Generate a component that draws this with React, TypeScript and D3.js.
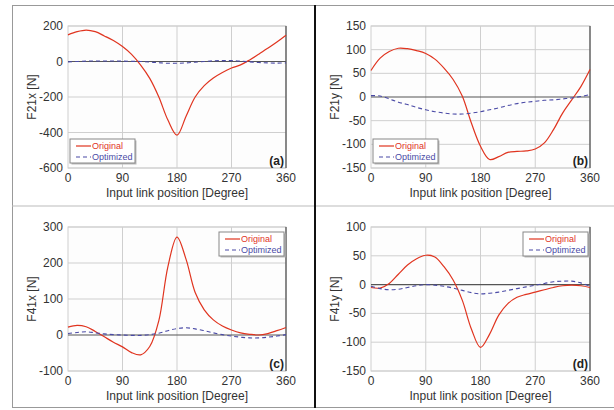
import { useMemo } from "react";
import * as d3 from "d3";

// input link angle, degrees (same grid for every series)
const angles = [0, 15, 30, 45, 60, 75, 90, 105, 120, 135, 150, 165, 180, 195, 210, 225, 240, 255, 270, 285, 300, 315, 330, 345, 360];

const f21xOriginal = [150, 168, 177, 168, 144, 118, 84, 40, -20, -95, -200, -330, -415, -308, -200, -136, -93, -62, -37, -19, 9, 41, 75, 110, 148];
const f21xOptimized = [-2, 0, 2, 3, 3, 3, 2, 1, 0, -3, -7, -10, -10, -8, -4, 0, 4, 5, 5, 2, -2, -6, -8, -9, -8];

const f21yOriginal = [56, 82, 96, 103, 102, 98, 92, 80, 61, 37, 2, -55, -104, -132, -126, -117, -115, -114, -110, -97, -69, -34, -6, 22, 58];
const f21yOptimized = [3, 2, -4, -11, -16, -22, -27, -31, -34, -36, -36, -34, -31, -27, -23, -18, -14, -11, -9, -7, -6, -4, -2, 1, 5];

const f41xOriginal = [22, 27, 23, 10, -5, -20, -33, -49, -55, -32, 40, 190, 272, 210, 118, 70, 42, 25, 14, 6, 2, 0, 4, 12, 21];
const f41xOptimized = [4, 7, 9, 6, 3, 1, 0, -1, -1, 1, 5, 12, 18, 20, 17, 12, 6, 1, -3, -6, -8, -8, -6, -3, 1];

const f41yOriginal = [-5, -6, 2, 18, 34, 45, 51, 48, 31, 8, -27, -77, -109, -86, -53, -33, -22, -17, -13, -9, -5, -2, -1, -2, -5];
const f41yOptimized = [-3, -7, -9, -8, -5, -2, 0, -1, -3, -6, -10, -14, -16, -15, -13, -10, -7, -4, -1, 2, 5, 6, 6, 3, -3];

const xTicks = [0, 90, 180, 270, 360];

const panels = [
  { key: "a", title: "F21x [N]", orig: f21xOriginal, opt: f21xOptimized, domain: [-600, 200], ticks: [-600, -400, -200, 0, 200], box: { l: 68, r: 286, t: 26, b: 168 }, legend: "bl" },
  { key: "b", title: "F21y [N]", orig: f21yOriginal, opt: f21yOptimized, domain: [-150, 150], ticks: [-150, -100, -50, 0, 50, 100, 150], box: { l: 371, r: 590, t: 26, b: 168 }, legend: "bl" },
  { key: "c", title: "F41x [N]", orig: f41xOriginal, opt: f41xOptimized, domain: [-100, 300], ticks: [-100, 0, 100, 200, 300], box: { l: 68, r: 286, t: 227, b: 371 }, legend: "tr" },
  { key: "d", title: "F41y [N]", orig: f41yOriginal, opt: f41yOptimized, domain: [-150, 100], ticks: [-150, -100, -50, 0, 50, 100], box: { l: 371, r: 590, t: 227, b: 371 }, legend: "tr" },
];

const RED = "#e0341f";
const BLUE = "#4a4aa6";
const FONT = "'Liberation Sans', Arial, sans-serif";

const Panel = ({ p }) => {
  const { l, r, t, b } = p.box;
  const x = useMemo(() => d3.scaleLinear().domain([0, 360]).range([l, r]), [l, r]);
  const y = useMemo(() => d3.scaleLinear().domain(p.domain).range([b, t]), [p, b, t]);
  const line = d3
    .line<number>()
    .x((_, i) => x(angles[i]))
    .y((v) => y(v))
    .curve(d3.curveCatmullRom.alpha(0.5));

  const lg = p.legend === "bl" ? { x: l + 2, y: b - 29 } : { x: r - 67, y: t + 5 };

  return (
    <g>
      <rect x={l} y={t} width={r - l} height={b - t} fill="#fdfdfd" stroke="#d0d0d0" />
      {xTicks.slice(1, -1).map((d) => (
        <line key={d} x1={x(d)} x2={x(d)} y1={t} y2={b} stroke="#cfcfcf" />
      ))}
      {p.ticks.map((d) => (
        <line key={d} x1={l} x2={r} y1={y(d)} y2={y(d)} stroke={d === 0 ? "#555" : "#cfcfcf"} strokeWidth={d === 0 ? 1.2 : 1} />
      ))}
      <line x1={r} x2={r} y1={t} y2={b} stroke="#555" strokeWidth={1.3} />
      <path d={line(p.orig) || ""} fill="none" stroke={RED} strokeWidth={1.2} />
      <path d={line(p.opt) || ""} fill="none" stroke={BLUE} strokeWidth={1.1} strokeDasharray="4,3" />
      {p.ticks.map((d) => (
        <text key={d} x={l - 5} y={y(d) + 4} textAnchor="end" fontSize={12} fill="#333" fontFamily={FONT}>
          {d}
        </text>
      ))}
      {xTicks.map((d) => (
        <text key={d} x={x(d)} y={b + 14} textAnchor="middle" fontSize={12} fill="#333" fontFamily={FONT}>
          {d}
        </text>
      ))}
      <text x={(l + r) / 2} y={b + 29} textAnchor="middle" fontSize={12} fill="#333" fontFamily={FONT}>
        Input link position [Degree]
      </text>
      <text transform={`translate(${l - 32},${(t + b) / 2}) rotate(-90)`} textAnchor="middle" fontSize={12} fill="#333" fontFamily={FONT}>
        {p.title}
      </text>
      <text x={r - 2} y={b - 3} textAnchor="end" fontSize={12} fontWeight="bold" fill="#222" fontFamily={FONT}>
        ({p.key})
      </text>
      <g transform={`translate(${lg.x},${lg.y})`}>
        <rect x={1.5} y={1.5} width={65} height={24} fill="#bbb" />
        <rect x={0} y={0} width={65} height={24} fill="#fff" stroke="#888" />
        <line x1={6} x2={21} y1={7} y2={7} stroke={RED} strokeWidth={1.2} />
        <text x={22} y={10} fontSize={9} fill={RED} fontFamily={FONT}>Original</text>
        <line x1={6} x2={21} y1={18} y2={18} stroke={BLUE} strokeWidth={1.1} strokeDasharray="4,3" />
        <text x={22} y={21} fontSize={9} fill={BLUE} fontFamily={FONT}>Optimized</text>
      </g>
    </g>
  );
};

export default function App() {
  return (
    <div style={{ position: "absolute", left: 0, top: 0 }}>
      <svg width={614} height={410} style={{ display: "block", background: "#fff" }}>
        <line x1={12} x2={614} y1={5.5} y2={5.5} stroke="#999" />
        <line x1={12.5} x2={12.5} y1={5} y2={408} stroke="#999" />
        <line x1={12} x2={614} y1={407.5} y2={407.5} stroke="#999" />
        <line x1={12} x2={614} y1={206} y2={206} stroke="#bbb" />
        <line x1={315} x2={315} y1={5} y2={408} stroke="#111" strokeWidth={2} />
        {panels.map((p) => (
          <Panel key={p.key} p={p} />
        ))}
      </svg>
    </div>
  );
}
